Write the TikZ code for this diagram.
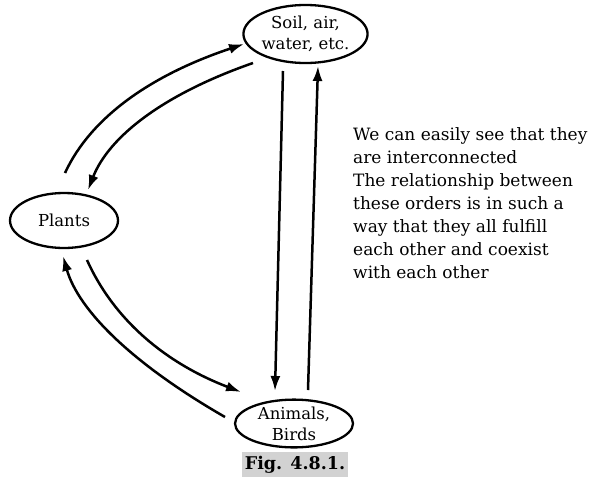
\documentclass[tikz,border=0pt]{standalone}
\usepackage{fontspec}
\setmainfont{DejaVu Serif}
\usetikzlibrary{shapes.geometric,arrows.meta}
\tikzset{
  oval/.style={draw, line width=2.3pt, ellipse, inner sep=0pt, align=center, font=\fontsize{16.5}{21}\selectfont},
  flow/.style={line width=2.5pt, -{Latex[length=15pt,width=10pt]}},
}
\begin{document}
\begin{tikzpicture}[x=1pt,y=-1pt]
\useasboundingbox (0,0) rectangle (591,485);
\node[oval, minimum width=124pt, minimum height=58pt] (soil) at (305.5,34) {Soil, air,\\water, etc.};
\node[oval, minimum width=108pt, minimum height=55pt] (plants) at (64,220.5) {Plants};
\node[oval, minimum width=118pt, minimum height=43pt] (animals) at (294,423.5) {Animals,\\Birds};
\node[fill=gray!35, minimum width=106pt, minimum height=25pt, inner sep=1pt, font=\bfseries\fontsize{17.5}{19}\selectfont] (fig) at (295,464.5) {Fig. 4.8.1.};
\node[anchor=north west, align=left, inner sep=0pt, font=\fontsize{17}{23}\selectfont] (txt) at (353,127) {We can easily see that they\\are interconnected\\The relationship between\\these orders is in such a\\way that they all fulfill\\each other and coexist\\with each other};
% connector end points
\coordinate (s1) at (253,63);
\coordinate (p1) at (88,190);
\coordinate (p2) at (65,173);
\coordinate (s2) at (244,44);
\coordinate (p3) at (87,260);
\coordinate (a1) at (241,392);
\coordinate (a2) at (225,417);
\coordinate (p4) at (63,256);
\coordinate (s3) at (283,71);
\coordinate (a3) at (275,391);
\coordinate (a4) at (308,390);
\coordinate (s4) at (318,66);
\draw[flow] (s1) .. controls (164,94) and (109,136.3) .. (p1);
\draw[flow] (p2) .. controls (90,118.7) and (149,75.7) .. (s2);
\draw[flow] (p3) .. controls (113.3,318.7) and (164.3,362.7) .. (a1);
\draw[flow] (a2) .. controls (132.3,363.7) and (78.3,310.3) .. (p4);
\draw[flow] (s3) -- (a3);
\draw[flow] (a4) -- (s4);
\end{tikzpicture}
\end{document}
